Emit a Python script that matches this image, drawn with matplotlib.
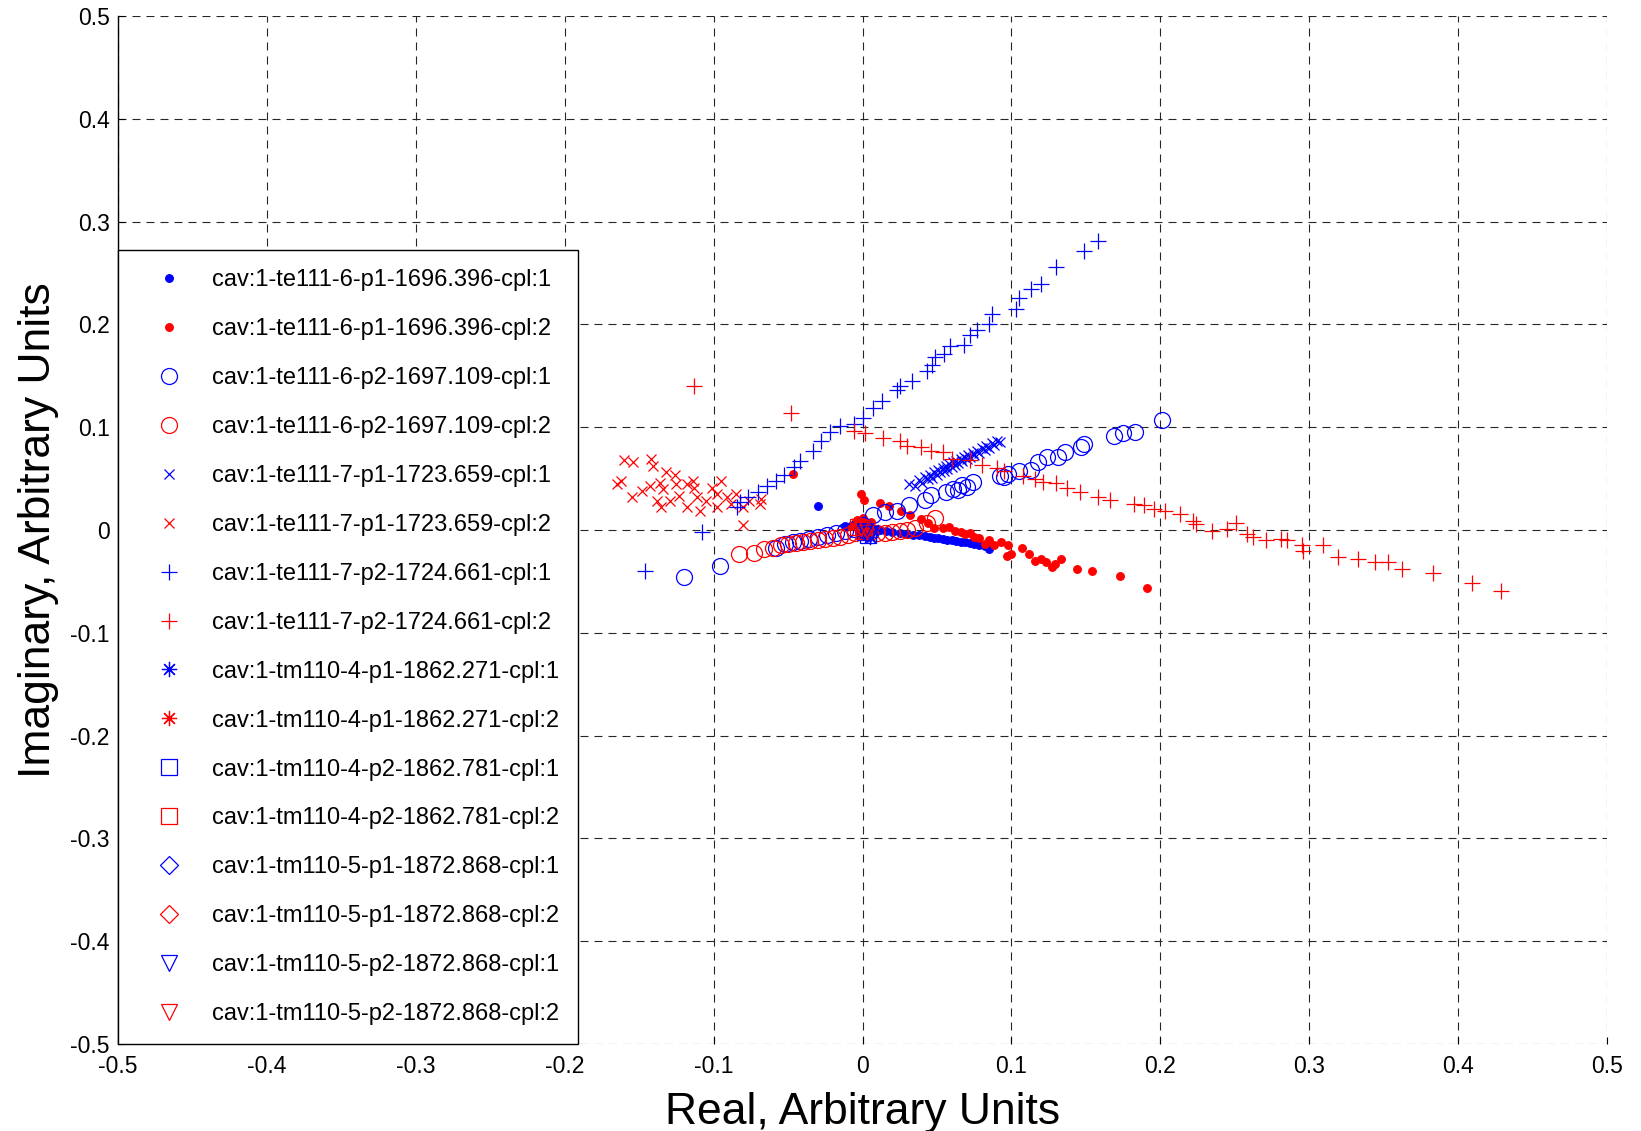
import numpy as np
import matplotlib
matplotlib.use('Agg')
import matplotlib.pyplot as plt

plt.rcParams['font.family'] = ['Liberation Sans', 'DejaVu Sans']
plt.rcParams['axes.unicode_minus'] = False

# te111-6-p1 (dots)
te6p1_c1_x = [-0.030, -0.012, -0.005, 0.0, 0.004, 0.008, 0.012, 0.016, 0.020, 0.025, 0.030, 0.034, 0.038,
              0.042, 0.045, 0.048, 0.051, 0.054, 0.057, 0.060, 0.063, 0.066, 0.069, 0.072, 0.075, 0.078, 0.082, 0.085]
te6p1_c1_y = [0.023, 0.004, 0.006, 0.003, 0.002, 0.001, 0.0, -0.001, -0.002, -0.003, -0.004, -0.005, -0.005,
              -0.006, -0.007, -0.008, -0.008, -0.009, -0.010, -0.010, -0.011, -0.012, -0.012, -0.013, -0.014, -0.015, -0.016, -0.018]
te6p1_c2_x = [-0.047, -0.008, -0.004, -0.002, 0.0, 0.002, 0.004, 0.006, -0.001, 0.001, 0.012, 0.018, 0.026, 0.032,
              0.039, 0.044, 0.048, 0.054, 0.058, 0.062, 0.066, 0.069, 0.072, 0.075, 0.078, 0.082, 0.085, 0.088,
              0.093, 0.098, 0.097, 0.100, 0.107, 0.112, 0.116, 0.120, 0.123, 0.127, 0.129, 0.133, 0.144, 0.154, 0.173, 0.191]
te6p1_c2_y = [0.055, 0.004, 0.010, -0.004, 0.012, 0.006, 0.000, 0.008, 0.035, 0.029, 0.026, 0.023, 0.019, 0.015,
              0.011, 0.007, 0.002, 0.002, 0.003, -0.001, -0.002, -0.004, -0.003, -0.007, -0.008, -0.014, -0.010, -0.015,
              -0.012, -0.015, -0.025, -0.023, -0.017, -0.023, -0.030, -0.028, -0.031, -0.036, -0.033, -0.028, -0.038, -0.040, -0.045, -0.056]

# te111-6-p2 (circles)
te6p2_c1_x = [-0.120, -0.096, -0.058, -0.052, -0.047, -0.042, -0.036, -0.030, -0.024, -0.018, -0.012, -0.006,
              0.000, 0.007, 0.015, 0.023, 0.031, 0.042, 0.046, 0.056, 0.061, 0.064, 0.067, 0.070, 0.074, 0.092,
              0.095, 0.098, 0.105, 0.113, 0.118, 0.124, 0.131, 0.136, 0.147, 0.149, 0.169, 0.175, 0.183, 0.201]
te6p2_c1_y = [-0.046, -0.035, -0.017, -0.014, -0.012, -0.011, -0.009, -0.007, -0.005, -0.003, -0.001, 0.001,
              0.005, 0.015, 0.018, 0.019, 0.024, 0.029, 0.034, 0.037, 0.040, 0.039, 0.044, 0.042, 0.047, 0.053,
              0.052, 0.055, 0.057, 0.058, 0.066, 0.071, 0.071, 0.076, 0.081, 0.084, 0.091, 0.094, 0.095, 0.107]
te6p2_c2_x = [-0.083, -0.073, -0.066, -0.060, -0.055, -0.050, -0.045, -0.040, -0.035, -0.030, -0.025, -0.020,
              -0.015, -0.010, -0.005, 0.000, 0.005, 0.010, 0.015, 0.020, 0.025, 0.030, 0.035, 0.043, 0.049]
te6p2_c2_y = [-0.023, -0.022, -0.018, -0.017, -0.015, -0.014, -0.013, -0.012, -0.011, -0.010, -0.009, -0.008,
              -0.007, -0.005, -0.003, -0.002, -0.002, -0.003, -0.003, -0.002, -0.001, 0.000, 0.002, 0.007, 0.012]

# te111-7-p1 (x)
te7p1_c1_x = [0.031, 0.035, 0.038, 0.040, 0.042, 0.044, 0.045, 0.047, 0.048, 0.050, 0.051, 0.052, 0.054, 0.055,
              0.056, 0.057, 0.058, 0.060, 0.061, 0.062, 0.063, 0.064, 0.066, 0.067, 0.068, 0.070, 0.071, 0.072,
              0.074, 0.075, 0.077, 0.078, 0.080, 0.082, 0.083, 0.085, 0.087, 0.088, 0.090, 0.092]
te7p1_c1_y = [0.045, 0.043, 0.049, 0.046, 0.052, 0.050, 0.054, 0.051, 0.056, 0.054, 0.058, 0.056, 0.060, 0.057,
              0.062, 0.059, 0.064, 0.061, 0.066, 0.063, 0.067, 0.065, 0.069, 0.067, 0.071, 0.069, 0.073, 0.071,
              0.075, 0.073, 0.077, 0.075, 0.080, 0.078, 0.082, 0.080, 0.085, 0.083, 0.087, 0.086]
te7p1_c2_x = [-0.165, -0.162, -0.154, -0.155, -0.148, -0.143, -0.142, -0.141, -0.136, -0.134, -0.132, -0.135,
              -0.129, -0.126, -0.125, -0.123, -0.118, -0.114, -0.113, -0.111, -0.109, -0.105, -0.101, -0.098,
              -0.098, -0.095, -0.091, -0.088, -0.085, -0.080, -0.076, -0.069, -0.068, -0.080, -0.118, -0.138, -0.160]
te7p1_c2_y = [0.045, 0.048, 0.066, 0.032, 0.038, 0.043, 0.069, 0.062, 0.046, 0.040, 0.056, 0.022,
              0.028, 0.054, 0.045, 0.033, 0.022, 0.048, 0.041, 0.032, 0.019, 0.028, 0.041, 0.035,
              0.022, 0.048, 0.032, 0.025, 0.035, 0.022, 0.028, 0.025, 0.030, 0.005, 0.045, 0.028, 0.068]

# te111-7-p2 (+)
te7p2_c1_x = [-0.146, -0.108, -0.084, -0.082, -0.077, -0.070, -0.064, -0.058, -0.053, -0.046, -0.042, -0.033,
              -0.028, -0.022, -0.015, -0.006, 0.000, 0.007, 0.013, 0.023, 0.025, 0.033, 0.043, 0.047, 0.049, 0.055,
              0.059, 0.068, 0.072, 0.077, 0.085, 0.087, 0.103, 0.105, 0.113, 0.120, 0.130, 0.149, 0.158]
te7p2_c1_y = [-0.040, -0.002, 0.022, 0.027, 0.032, 0.037, 0.043, 0.048, 0.054, 0.061, 0.067, 0.077,
              0.087, 0.095, 0.101, 0.103, 0.109, 0.119, 0.126, 0.136, 0.140, 0.145, 0.155, 0.161, 0.168, 0.171,
              0.179, 0.180, 0.190, 0.195, 0.200, 0.210, 0.215, 0.226, 0.234, 0.239, 0.256, 0.271, 0.281]
te7p2_c2_x = [-0.113, -0.048, -0.006, 0.002, 0.014, 0.025, 0.030, 0.039, 0.046, 0.054, 0.060, 0.072, 0.080,
              0.090, 0.095, 0.108, 0.116, 0.121, 0.130, 0.137, 0.146, 0.158, 0.166, 0.182, 0.189, 0.196, 0.203,
              0.213, 0.222, 0.224, 0.235, 0.245, 0.251, 0.258, 0.262, 0.271, 0.281, 0.285, 0.295, 0.296, 0.309,
              0.319, 0.333, 0.344, 0.353, 0.362, 0.383, 0.409, 0.429]
te7p2_c2_y = [0.140, 0.114, 0.096, 0.094, 0.090, 0.087, 0.082, 0.081, 0.077, 0.076, 0.069, 0.068, 0.063,
              0.060, 0.057, 0.053, 0.050, 0.047, 0.046, 0.041, 0.037, 0.032, 0.029, 0.025, 0.024, 0.020, 0.019,
              0.016, 0.009, 0.006, -0.001, 0.001, 0.007, -0.004, -0.007, -0.010, -0.009, -0.010, -0.015, -0.020, -0.015,
              -0.026, -0.028, -0.031, -0.031, -0.038, -0.042, -0.052, -0.059]

# tm110 modes, all bunched at the origin
tm4p1_c1_x = [0.003, 0.005, 0.007]
tm4p1_c1_y = [-0.003, -0.007, 0.000]
tm4p1_c2_x = [-0.004, 0.000, 0.004]
tm4p1_c2_y = [0.006, 0.002, -0.002]
tm4p2_c1_x = [0.002, 0.004]
tm4p2_c1_y = [-0.002, -0.005]
tm4p2_c2_x = [-0.003, 0.001]
tm4p2_c2_y = [0.003, -0.001]
tm5p1_c1_x = [0.001, 0.003]
tm5p1_c1_y = [0.000, -0.003]
tm5p1_c2_x = [-0.002, 0.002]
tm5p1_c2_y = [0.004, 0.001]
tm5p2_c1_x = [0.002, 0.005]
tm5p2_c1_y = [-0.001, -0.004]
tm5p2_c2_x = [-0.001, 0.003]
tm5p2_c2_y = [0.002, 0.000]

labels = ['cav:1-te111-6-p1-1696.396-cpl:1', 'cav:1-te111-6-p1-1696.396-cpl:2',
          'cav:1-te111-6-p2-1697.109-cpl:1', 'cav:1-te111-6-p2-1697.109-cpl:2',
          'cav:1-te111-7-p1-1723.659-cpl:1', 'cav:1-te111-7-p1-1723.659-cpl:2',
          'cav:1-te111-7-p2-1724.661-cpl:1', 'cav:1-te111-7-p2-1724.661-cpl:2',
          'cav:1-tm110-4-p1-1862.271-cpl:1', 'cav:1-tm110-4-p1-1862.271-cpl:2',
          'cav:1-tm110-4-p2-1862.781-cpl:1', 'cav:1-tm110-4-p2-1862.781-cpl:2',
          'cav:1-tm110-5-p1-1872.868-cpl:1', 'cav:1-tm110-5-p1-1872.868-cpl:2',
          'cav:1-tm110-5-p2-1872.868-cpl:1', 'cav:1-tm110-5-p2-1872.868-cpl:2']

series = [(te6p1_c1_x, te6p1_c1_y), (te6p1_c2_x, te6p1_c2_y),
          (te6p2_c1_x, te6p2_c1_y), (te6p2_c2_x, te6p2_c2_y),
          (te7p1_c1_x, te7p1_c1_y), (te7p1_c2_x, te7p1_c2_y),
          (te7p2_c1_x, te7p2_c1_y), (te7p2_c2_x, te7p2_c2_y),
          (tm4p1_c1_x, tm4p1_c1_y), (tm4p1_c2_x, tm4p1_c2_y),
          (tm4p2_c1_x, tm4p2_c1_y), (tm4p2_c2_x, tm4p2_c2_y),
          (tm5p1_c1_x, tm5p1_c1_y), (tm5p1_c2_x, tm5p1_c2_y),
          (tm5p2_c1_x, tm5p2_c1_y), (tm5p2_c2_x, tm5p2_c2_y)]

# marker, size (pt), filled
styles = [('o', 5.5, True), ('o', 11.5, False), ('x', 7.5, False), ('+', 12, False),
          ((8, 2, 0), 11, False), ('s', 11, False), ('D', 9.5, False), ('v', 12, False)]
colors = ['#0000ff', '#ff0000']

fig = plt.figure(figsize=(16.41, 11.31), dpi=100)
ax = fig.add_axes([0.0719, 0.0769, 0.9074, 0.9089])

for i, (x, y) in enumerate(series):
    mk, ms, filled = styles[i // 2]
    c = colors[i % 2]
    ax.plot(x, y, linestyle='none', marker=mk, markersize=ms, markeredgewidth=0.9,
            markeredgecolor=c, markerfacecolor=c if filled else 'none', label=labels[i])

ax.set_xlim(-0.5, 0.5)
ax.set_ylim(-0.5, 0.5)
ticks = np.arange(-0.5, 0.51, 0.1)
ticklabels = ['0' if abs(t) < 1e-9 else ('%.1f' % t) for t in ticks]
ax.set_xticks(ticks)
ax.set_xticklabels(ticklabels)
ax.set_yticks(ticks)
ax.set_yticklabels(ticklabels)
ax.tick_params(direction='in', length=5, labelsize=16.5)
ax.tick_params(axis='x', pad=8)
ax.tick_params(axis='y', pad=6)
ax.grid(True, color='0.15', linewidth=0.8, linestyle=(0, (7.2, 5.4)))
ax.set_axisbelow(True)
for s in ['top', 'right', 'bottom']:
    ax.spines[s].set_visible(False)
ax.spines['left'].set_linewidth(1.0)

ax.set_xlabel('Real, Arbitrary Units', fontsize=32, labelpad=10)
ax.set_ylabel('Imaginary, Arbitrary Units', fontsize=32, labelpad=8)

leg = ax.legend(loc='lower left', bbox_to_anchor=(0, 0), borderaxespad=0, fontsize=17,
                numpoints=1, handlelength=2.7, handletextpad=0.47, borderpad=0.8,
                labelspacing=1.14, fancybox=False, framealpha=1)
leg.get_frame().set_edgecolor('black')
leg.get_frame().set_linewidth(1.0)

fig.savefig('out.png', dpi=100)
